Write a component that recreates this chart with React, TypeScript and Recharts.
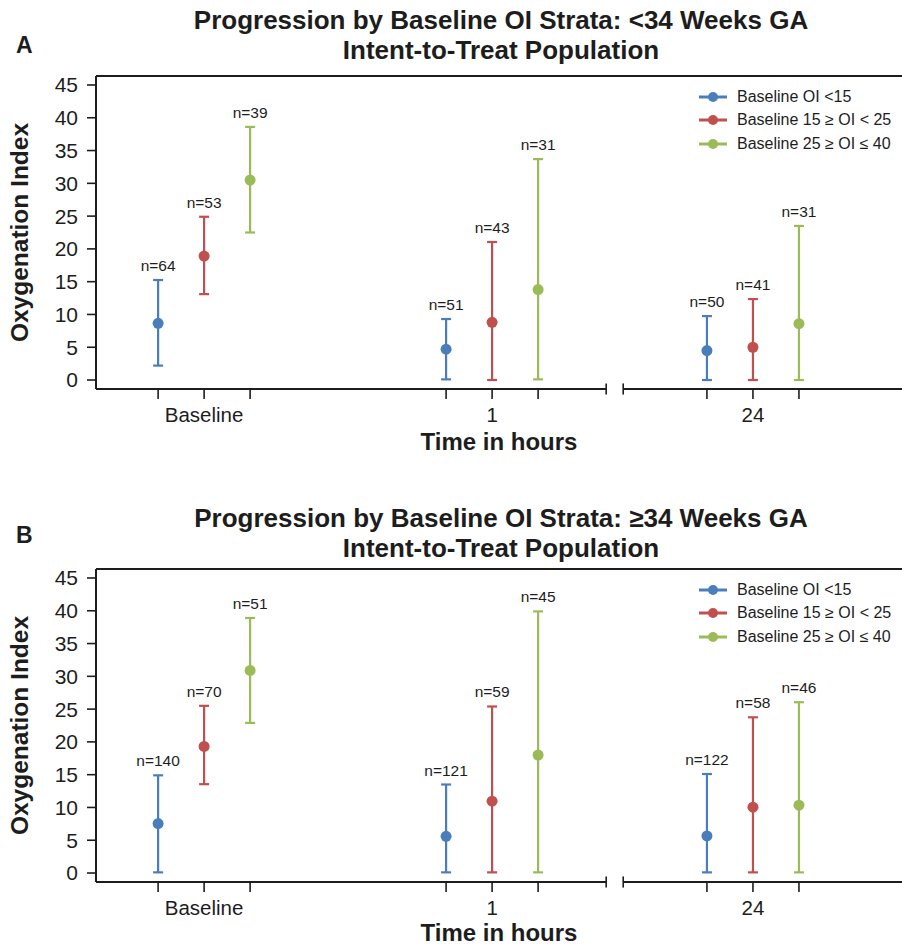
import React from "react";
import {
  ComposedChart,
  Scatter,
  XAxis,
  YAxis,
  ErrorBar,
  ReferenceLine,
  LabelList,
  Legend,
} from "recharts";

const FONT = '"Liberation Sans", Arial, Helvetica, sans-serif';
const INK = "#1d1d1d";

// time points on the x axis and where their groups sit on the numeric axis
const timeLabels = ["Baseline", "1", "24"];
const timePositions = [2, 8.26, 13.93];
const strataOffsets = [-1, 0, 1];

const strataNames = [
  "Baseline OI <15",
  "Baseline 15 \u2265 OI < 25",
  "Baseline 25 \u2265 OI \u2264 40",
];
const strataColors = ["#4a7ebb", "#c0504d", "#9bbb59"];

const yTicks = [0, 5, 10, 15, 20, 25, 30, 35, 40, 45];
const X_DOMAIN = [-0.35, 17.17];
const Y_DOMAIN = [-1.37, 46.37];
// where the x axis is broken between "1" and "24"
const AXIS_BREAK = [10.74, 11.11];

// Panel A: <34 weeks GA (mean, lower, upper, n at Baseline / 1 h / 24 h)
const aMeanLow = [8.65, 4.7, 4.5];
const aLowerLow = [2.2, 0.1, 0];
const aUpperLow = [15.25, 9.3, 9.75];
const aNLow = [64, 51, 50];

const aMeanMid = [18.9, 8.8, 5.0];
const aLowerMid = [13.1, 0, 0];
const aUpperMid = [24.9, 21.05, 12.35];
const aNMid = [53, 43, 41];

const aMeanHigh = [30.5, 13.8, 8.6];
const aLowerHigh = [22.5, 0.1, 0];
const aUpperHigh = [38.6, 33.7, 23.5];
const aNHigh = [39, 31, 31];

// Panel B: >=34 weeks GA
const bMeanLow = [7.55, 5.6, 5.65];
const bLowerLow = [0.1, 0.1, 0.1];
const bUpperLow = [14.9, 13.5, 15.1];
const bNLow = [140, 121, 122];

const bMeanMid = [19.3, 10.96, 10.05];
const bLowerMid = [13.55, 0.1, 0.1];
const bUpperMid = [25.5, 25.4, 23.75];
const bNMid = [70, 59, 58];

const bMeanHigh = [30.9, 18.0, 10.35];
const bLowerHigh = [22.9, 0.1, 0.1];
const bUpperHigh = [38.9, 39.9, 26.05];
const bNHigh = [51, 45, 46];

type Stratum = { mean: number[]; lower: number[]; upper: number[]; n: number[] };

const panelA: Stratum[] = [
  { mean: aMeanLow, lower: aLowerLow, upper: aUpperLow, n: aNLow },
  { mean: aMeanMid, lower: aLowerMid, upper: aUpperMid, n: aNMid },
  { mean: aMeanHigh, lower: aLowerHigh, upper: aUpperHigh, n: aNHigh },
];
const panelB: Stratum[] = [
  { mean: bMeanLow, lower: bLowerLow, upper: bUpperLow, n: bNLow },
  { mean: bMeanMid, lower: bLowerMid, upper: bUpperMid, n: bNMid },
  { mean: bMeanHigh, lower: bLowerHigh, upper: bUpperHigh, n: bNHigh },
];

const xTicks = timePositions.flatMap((t) => strataOffsets.map((o) => t + o));

function toRows(s: Stratum, k: number) {
  return timePositions.map((t, i) => ({
    x: t + strataOffsets[k],
    y: s.mean[i],
    err: [s.mean[i] - s.lower[i], s.upper[i] - s.mean[i]],
    top: s.upper[i],
    n: `n=${s.n[i]}`,
  }));
}

function TimeTick(props: any) {
  const { x, y, payload } = props;
  const i = timePositions.findIndex((p) => Math.abs(p - payload.value) < 1e-6);
  if (i < 0) return <g />;
  return (
    <text x={x} y={y} dy="0.71em" textAnchor="middle" fontSize={20.5} fill={INK} fontFamily={FONT}>
      {timeLabels[i]}
    </text>
  );
}

function CountLabel(props: any) {
  const vb = props.viewBox ?? props;
  const cx = vb.x + (vb.width ?? 0) / 2;
  const cy = vb.y + (vb.height ?? 0) / 2;
  return (
    <text x={cx} y={cy - 9} textAnchor="middle" fontSize={15.5} fill={INK} fontFamily={FONT}>
      {props.value}
    </text>
  );
}

function StrataLegend() {
  return (
    <div style={{ fontFamily: FONT, fontSize: 16, color: INK }}>
      {strataNames.map((name, i) => (
        <div key={name} style={{ display: "flex", alignItems: "center", height: 23.5 }}>
          <svg width={38} height={14} style={{ flex: "none" }}>
            <line x1={0} y1={7} x2={28} y2={7} stroke={strataColors[i]} strokeWidth={3} />
            <circle cx={14} cy={7} r={5} fill={strataColors[i]} />
          </svg>
          <span style={{ whiteSpace: "nowrap" }}>{name}</span>
        </div>
      ))}
    </div>
  );
}

type PanelProps = {
  letter: string;
  title: string;
  strata: Stratum[];
  top: number;
  titleTop: number;
  letterTop: number;
  xLabelOffset: number;
};

function Panel({ letter, title, strata, top, titleTop, letterTop, xLabelOffset }: PanelProps) {
  return (
    <div style={{ position: "absolute", left: 0, top, width: 902, height: 458 }}>
      <ComposedChart width={902} height={458} margin={{ top: 76, right: 0, bottom: 0, left: 0 }}>
        <XAxis
          type="number"
          dataKey="x"
          domain={X_DOMAIN}
          allowDataOverflow
          ticks={xTicks}
          axisLine={false}
          tickLine={{ stroke: INK, strokeWidth: 1.6 }}
          tickSize={10}
          tickMargin={8}
          height={69}
          tick={<TimeTick />}
          label={{
            value: "Time in hours",
            position: "insideBottom",
            offset: xLabelOffset,
            style: { fontFamily: FONT, fontSize: 24, fontWeight: 700, fill: INK },
          }}
        />
        <YAxis
          type="number"
          domain={Y_DOMAIN}
          allowDataOverflow
          ticks={yTicks}
          width={96}
          axisLine={{ stroke: INK, strokeWidth: 2 }}
          tickLine={{ stroke: INK, strokeWidth: 1.6 }}
          tickSize={9}
          tickMargin={9}
          tick={{ fontFamily: FONT, fontSize: 21, fill: INK }}
          label={{
            value: "Oxygenation Index",
            angle: -90,
            position: "insideLeft",
            offset: 19,
            style: { fontFamily: FONT, fontSize: 24.5, fontWeight: 700, fill: INK, textAnchor: "middle" },
          }}
        />
        <ReferenceLine y={Y_DOMAIN[1]} stroke={INK} strokeWidth={2} ifOverflow="visible" />
        <ReferenceLine
          segment={[
            { x: X_DOMAIN[0], y: Y_DOMAIN[0] },
            { x: AXIS_BREAK[0], y: Y_DOMAIN[0] },
          ]}
          stroke={INK}
          strokeWidth={2}
          ifOverflow="visible"
        />
        <ReferenceLine
          segment={[
            { x: AXIS_BREAK[1], y: Y_DOMAIN[0] },
            { x: X_DOMAIN[1], y: Y_DOMAIN[0] },
          ]}
          stroke={INK}
          strokeWidth={2}
          ifOverflow="visible"
        />
        {AXIS_BREAK.map((bx) => (
          <ReferenceLine
            key={bx}
            segment={[
              { x: bx, y: Y_DOMAIN[0] + 0.85 },
              { x: bx, y: Y_DOMAIN[0] - 0.85 },
            ]}
            stroke={INK}
            strokeWidth={1.6}
            ifOverflow="visible"
          />
        ))}
        {strata.map((s, k) => (
          <Scatter
            key={`s${k}`}
            name={strataNames[k]}
            data={toRows(s, k)}
            dataKey="y"
            fill={strataColors[k]}
            isAnimationActive={false}
            shape={(p: any) => <circle cx={p.cx} cy={p.cy} r={5.5} fill={strataColors[k]} />}
          >
            <ErrorBar dataKey="err" direction="y" width={5} strokeWidth={2.2} stroke={strataColors[k]} isAnimationActive={false} />
          </Scatter>
        ))}
        {strata.map((s, k) => (
          <Scatter
            key={`n${k}`}
            data={toRows(s, k)}
            dataKey="top"
            legendType="none"
            isAnimationActive={false}
            shape={() => <g />}
          >
            <LabelList dataKey="n" content={<CountLabel />} />
          </Scatter>
        ))}
        <Legend
          layout="horizontal"
          verticalAlign="middle"
          align="center"
          wrapperStyle={{ left: 699, top: 85, width: 200, height: 72 }}
          content={() => <StrataLegend />}
        />
      </ComposedChart>
      <div
        style={{
          position: "absolute",
          left: 16,
          top: letterTop,
          fontFamily: FONT,
          fontSize: 23,
          lineHeight: "23px",
          fontWeight: 700,
          color: INK,
        }}
      >
        {letter}
      </div>
      <div
        style={{
          position: "absolute",
          left: 100,
          top: titleTop,
          width: 802,
          textAlign: "center",
          fontFamily: FONT,
          fontSize: 26,
          lineHeight: "30px",
          fontWeight: 700,
          color: INK,
        }}
      >
        <div>{title}</div>
        <div>Intent-to-Treat Population</div>
      </div>
    </div>
  );
}

export default function App() {
  return (
    <div
      style={{
        position: "absolute",
        left: 0,
        top: 0,
        width: 902,
        height: 948,
        overflow: "hidden",
        background: "#fff",
      }}
    >
      <Panel
        letter="A"
        title="Progression by Baseline OI Strata: <34 Weeks GA"
        strata={panelA}
        top={0}
        titleTop={5}
        letterTop={34}
        xLabelOffset={8}
      />
      <Panel
        letter="B"
        title={"Progression by Baseline OI Strata: \u226534 Weeks GA"}
        strata={panelB}
        top={493}
        titleTop={10}
        letterTop={31}
        xLabelOffset={10}
      />
    </div>
  );
}
